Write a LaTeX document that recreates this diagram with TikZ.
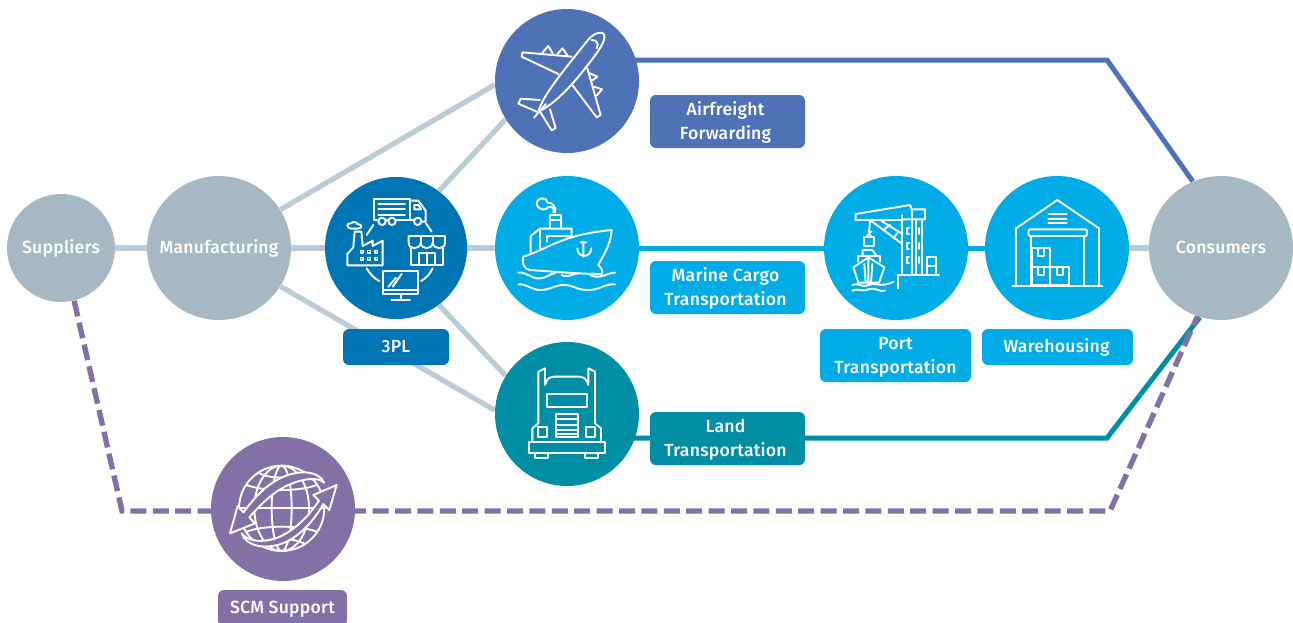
\documentclass[tikz,border=0pt]{standalone}
\usepackage{fontspec}
\setmainfont{Fira Sans}[UprightFont={* Medium},LetterSpace=1.4]
\usetikzlibrary{backgrounds,calc}
\definecolor{cgray}{HTML}{A5B8C3}
\definecolor{clink}{HTML}{BACCD4}
\definecolor{cblue}{HTML}{4F71B6}
\definecolor{cdeep}{HTML}{0075B4}
\definecolor{ccyan}{HTML}{00ACE6}
\definecolor{cteal}{HTML}{008EA4}
\definecolor{cpurp}{HTML}{8370A5}
\newcommand{\tl}{\rule[-3pt]{0pt}{11.9pt}}
\newcommand{\sh}{\hspace*{2pt}}
\tikzset{
  hub/.style={circle,fill=#1,draw=none,minimum size=144*0.5pt,inner sep=0pt,text=white,font=\fontsize{8.8}{12.15}\selectfont},
  tag/.style={rectangle,rounded corners=3pt,fill=#1,text=white,inner sep=0pt,align=center,font=\fontsize{8.8}{12.15}\selectfont},
  glink/.style={draw=clink,line width=2.6pt},
  route/.style={draw=#1,line width=2.5pt,line join=miter},
  support/.style={draw=cpurp,line width=2.7pt,dash pattern=on 8pt off 3.2pt},
  ico/.style={draw=white,line width=0.95pt,line join=round,line cap=round},
  icf/.style={ico,fill=#1},
}
\begin{document}
\begin{tikzpicture}[x=0.5pt,y=-0.5pt]
\useasboundingbox (0,0) rectangle (1293,622);
% hubs
\node[hub=cgray,minimum size=54pt] (sup) at (61,248) {\tl Suppliers};
\node[hub=cgray] (man) at (219,248) {\tl Manufacturing};
\node[hub=cdeep,minimum size=71pt] (tpl) at (396,248) {};
\node[hub=cblue] (air) at (567,81) {};
\node[hub=ccyan] (sea) at (567,248) {};
\node[hub=cteal] (lnd) at (567,414) {};
\node[hub=ccyan] (prt) at (896,248) {};
\node[hub=ccyan] (wh) at (1057,248) {};
\node[hub=cgray] (con) at (1221,248) {\tl Consumers};
\node[hub=cpurp] (scm) at (283,509) {};
% tags
\node[tag=cblue,minimum width=77.5pt,minimum height=26.5pt] (tair) at (727.5,121.5) {\tl Airfreight\sh\\\tl Forwarding\sh};
\node[tag=ccyan,minimum width=77.5pt,minimum height=26.5pt] (tsea) at (727.5,287.5) {\tl Marine Cargo\sh\\\tl Transportation\sh};
\node[tag=cteal,minimum width=77.5pt,minimum height=26.5pt] (tlnd) at (727.5,438.5) {\tl Land\sh\\\tl Transportation\sh};
\node[tag=ccyan,minimum width=75.5pt,minimum height=26.5pt] (tprt) at (895.5,355.5) {\tl Port\\\tl Transportation};
\node[tag=ccyan,minimum width=75.5pt,minimum height=18pt] (twh) at (1057.5,347) {\tl Warehousing\hspace*{1pt}};
\node[tag=cdeep,minimum width=53pt,minimum height=18pt] (ttpl) at (396,347) {\tl 3PL};
\node[tag=cpurp,minimum width=64.5pt,minimum height=18pt] (tscm) at (282.5,608) {\tl SCM Support};
% elbows
\coordinate (e1) at (1107,60);
\coordinate (e2) at (1107,438);
\coordinate (e3) at (1110,511);
\coordinate (e4) at (122,511);
% connectors
\begin{scope}[on background layer]
\draw[glink] (sup) -- (man);
\draw[glink] (man) -- (tpl);
\draw[glink] (tpl) -- (sea);
\draw[glink] (wh) -- (con);
\draw[glink] (man.32) -- (air.183);
\draw[glink] (man.-32) -- (lnd.177);
\draw[glink] (tpl.53) -- (air.212);
\draw[glink] (tpl.-53) -- (lnd.148);
\draw[route=cblue] (air.center |- e1) -- (e1) -- (con.113);
\draw[route=ccyan] (sea) -- (prt);
\draw[route=ccyan] (prt) -- (wh);
\draw[route=cteal] (lnd.center |- e2) -- (e2) -- (con.253);
\draw[support] (sup.-76) -- (e4) -- (scm.center |- e4);
\draw[support] (scm.center |- e3) -- (e3) -- (con.251);
\end{scope}
% plane
\begin{scope}[shift={(320,0)},scale=1/3]
\draw[ico] (655,335) .. controls (670,285) and (720,225) .. (808,115) .. controls (825,98) and (850,92) .. (853,105) .. controls (857,125) and (835,155) .. (790,212) .. controls (750,262) and (700,315) .. (655,335);
\draw[ico] (755,170) -- (608,157) -- (605,170) -- (715,222);
\draw[ico] (668,157) -- (685,138) -- (698,160);
\draw[ico] (712,162) -- (728,145) -- (742,166);
\draw[ico] (802,205) -- (842,345) -- (830,352) -- (757,255);
\draw[ico] (810,220) -- (832,230) -- (816,242);
\draw[ico] (822,260) -- (846,268) -- (830,287);
\draw[ico] (660,300) -- (602,296) -- (595,311) -- (650,335);
\draw[ico] (660,335) -- (695,391) -- (707,384) -- (690,328);
\draw[ico] (642,353) -- (678,312);
\draw[ico] (815,120) .. controls (830,120) and (838,130) .. (830,145);
\end{scope}
% 3PL icon
\begin{scope}[shift={(320,0)},scale=1/3]
\draw[ico] (170,660) -- (162,660) -- (162,597) -- (270,597) -- (270,660) -- (230,660);
\draw[ico] (205,660) -- (198,660);
\foreach \yy in {612,628,645} \draw[ico] (175,\yy) -- (255,\yy);
\draw[ico] (270,602) -- (295,602) -- (317,632) -- (317,665) -- (306,665);
\draw[ico] (270,660) -- (280,660);
\draw[ico] (283,615) -- (296,615) -- (303,628) -- (283,628) -- cycle;
\draw[ico] (186,664) circle (11);
\draw[ico] (216,664) circle (11);
\draw[ico] (293,664) circle (11);
\draw[ico] (82,796) -- (188,796) -- (188,722) -- (158,738) -- (158,722) -- (128,738) -- (124,695) -- (104,695) -- (100,742) -- (82,762) -- cycle;
\foreach \xx in {125,147,169} \foreach \yy in {755,776} \draw[ico,line width=0.8pt] (\xx-4,\yy-4) rectangle (\xx+4,\yy+4);
\draw[ico] (95,686) .. controls (78,686) and (78,668) .. (93,670) .. controls (100,662) and (112,668) .. (112,672) .. controls (128,672) and (128,686) .. (112,686) -- cycle;
\draw[ico] (266,708) -- (375,708) -- (375,728) .. controls (375,750) and (340,750) .. (338,728) .. controls (336,750) and (304,750) .. (302,728) .. controls (300,750) and (266,750) .. (266,728) -- cycle;
\draw[ico] (302,708) -- (302,728) (338,708) -- (338,728);
\draw[ico] (272,745) -- (272,794) -- (368,794) -- (368,745);
\draw[ico] (297,794) -- (297,758) -- (345,758) -- (345,794) (320,758) -- (320,794);
\draw[ico] (190,812) rectangle (295,882);
\draw[ico] (190,870) -- (295,870);
\draw[ico] (242,882) -- (242,900) (215,900) -- (270,900);
\draw[ico] (205,860) -- (228,833) (218,860) -- (245,822);
\draw[ico] (140,705) -- (160,675) (318,670) -- (335,695) (140,805) .. controls (150,822) and (162,835) .. (178,843) (303,843) .. controls (318,835) and (330,822) .. (338,805);
\end{scope}
% ship
\begin{scope}[shift={(320,0)},scale=1/3]
\draw[ico] (610,770) .. controls (690,745) and (720,705) .. (875,690) .. controls (872,735) and (850,765) .. (835,795) .. controls (845,805) and (850,815) .. (845,822) .. controls (780,822) and (700,815) .. (630,810) .. controls (610,808) and (605,785) .. (610,770) -- cycle;
\draw[ico] (632,758) -- (632,708) -- (660,686) -- (755,686) -- (755,712);
\draw[ico] (660,686) -- (660,745);
\draw[ico] (682,725) -- (682,707) -- (755,707);
\draw[ico] (690,685) -- (690,645) -- (722,645) -- (722,685) (690,660) -- (722,660);
\draw[ico] (700,637) .. controls (705,625) and (695,618) .. (683,622) .. controls (680,632) and (655,632) .. (650,612) .. controls (650,590) and (680,590) .. (683,608) .. controls (695,605) and (712,625) .. (705,637);
\draw[ico] (790,725) -- (790,770) (772,745) .. controls (772,775) and (812,775) .. (814,745) (782,727) -- (798,727);
\draw[ico] (595,818) .. controls (620,815) and (635,838) .. (660,835) .. controls (685,832) and (690,820) .. (705,820) (725,825) .. controls (745,835) and (760,820) .. (775,820) (810,825) .. controls (840,840) and (860,818) .. (885,818);
\draw[ico] (595,853) .. controls (620,850) and (635,872) .. (665,870) .. controls (695,868) and (710,852) .. (738,855) .. controls (765,858) and (775,872) .. (810,870) .. controls (840,868) and (860,850) .. (885,853);
\end{scope}
% truck
\begin{scope}[shift={(490,170)},scale=1/3]
\draw[ico] (116,815) -- (345,815) -- (345,848) -- (116,848) -- cycle;
\draw[ico] (135,850) -- (135,865) -- (175,865) -- (175,850);
\draw[ico] (285,850) -- (285,865) -- (325,865) -- (325,850);
\draw[ico] (127,815) -- (127,775) -- (145,760) -- (145,605) -- (165,595) -- (165,640);
\draw[ico] (333,815) -- (333,775) -- (315,760) -- (315,605) -- (295,595) -- (295,640);
\draw[ico] (165,645) .. controls (170,625) and (180,620) .. (195,620) -- (265,620) .. controls (280,620) and (290,625) .. (295,645);
\draw[ico] (170,672) rectangle (290,710);
\draw[ico] (145,772) rectangle (172,800);
\draw[ico] (289,772) rectangle (316,800);
\draw[ico] (198,732) rectangle (264,802);
\foreach \yy in {748,764,780,792} \draw[ico] (198,\yy) -- (264,\yy);
\end{scope}
% crane
\begin{scope}[shift={(815,170)},scale=1/3]
\draw[ico] (122,150) -- (122,132) -- (285,105) -- (290,118) -- (330,118) -- (330,148) -- (262,148);
\draw[ico] (122,150) -- (262,150);
\draw[ico] (165,150) -- (262,222) (195,150) -- (262,192);
\draw[ico] (205,180) -- (225,165) (235,205) -- (250,185);
\draw[ico] (262,135) -- (262,315) (290,118) -- (290,315) (322,148) -- (322,315) (302,148) -- (302,315);
\foreach \yy in {183,228,270} {\draw[ico] (282,\yy-9) -- (276,\yy-9) -- (276,\yy+9) -- (282,\yy+9); \draw[ico] (312,\yy-9) -- (312,\yy+9);}
\draw[ico] (248,355) -- (248,315) -- (372,315);
\draw[ico] (337,315) -- (337,262) -- (364,262) -- (364,315) (337,288) -- (364,288);
\draw[ico] (165,150) -- (163,178) .. controls (158,185) and (165,190) .. (170,185);
\draw[ico] (148,228) -- (148,200) -- (176,200) -- (176,228) -- cycle;
\draw[ico] (155,200) -- (162,190) -- (169,200);
\draw[ico] (143,258) -- (143,240) -- (172,240) -- (185,258);
\draw[ico] (128,275) -- (128,258) -- (195,258) -- (195,275);
\draw[ico] (115,292) -- (160,262) -- (208,292) -- (192,338) -- (130,338) -- cycle;
\draw[ico] (160,262) -- (160,338) (148,282) -- (152,338) (172,282) -- (168,338);
\draw[ico] (112,345) .. controls (130,335) and (140,355) .. (160,345) .. controls (180,335) and (195,355) .. (236,335);
\draw[ico] (112,362) .. controls (130,352) and (140,368) .. (160,358) .. controls (180,350) and (195,368) .. (210,362);
\end{scope}
% warehouse
\begin{scope}[shift={(815,170)},scale=1/3]
\draw[ico] (603,348) -- (603,175) -- (727,90) -- (852,175) -- (852,348);
\draw[ico] (592,348) -- (862,348);
\draw[ico] (700,132) -- (755,132) (700,146) -- (755,146) (700,160) -- (755,160);
\draw[ico] (645,178) -- (812,178) .. controls (818,178) and (818,198) .. (812,198) -- (645,198) .. controls (638,198) and (638,178) .. (645,178) -- cycle;
\draw[ico] (648,198) -- (648,348) (806,198) -- (806,348);
\draw[ico] (650,234) rectangle (706,290);
\draw[ico] (650,290) rectangle (706,346);
\draw[ico] (706,290) rectangle (763,346);
\draw[ico] (668,236) -- (668,258) -- (688,258) -- (688,236);
\draw[ico] (668,292) -- (668,314) -- (688,314) -- (688,292);
\draw[ico] (725,292) -- (725,314) -- (745,314) -- (745,292);
\end{scope}
% globe
\begin{scope}[shift={(200,430)},scale=1/3]
\draw[ico] (245,235) circle (128);
\draw[ico] (245,235) ellipse (82 and 128);
\draw[ico] (245,235) ellipse (30 and 128);
\draw[ico] (117,235) -- (373,235);
\draw[ico] (140,165) .. controls (190,185) and (300,185) .. (350,165);
\draw[ico] (140,305) .. controls (190,285) and (300,285) .. (350,305);
\draw[ico] (175,128) .. controls (210,148) and (280,148) .. (315,128);
\draw[ico] (175,342) .. controls (210,322) and (280,322) .. (315,342);
\draw[icf=cpurp] (372,158) .. controls (360,125) and (300,115) .. (240,145) .. controls (190,170) and (155,215) .. (130,247) -- (113,228) -- (90,310) -- (165,280) -- (148,262) .. controls (180,225) and (220,185) .. (265,165) .. controls (310,145) and (355,140) .. (372,158);
\draw[icf=cpurp] (125,310) .. controls (135,345) and (195,365) .. (260,335) .. controls (310,310) and (345,265) .. (370,222) -- (388,240) -- (410,165) -- (340,195) -- (357,212) .. controls (325,260) and (285,300) .. (235,322) .. controls (190,340) and (145,335) .. (125,310);
\end{scope}
\end{tikzpicture}
\end{document}
